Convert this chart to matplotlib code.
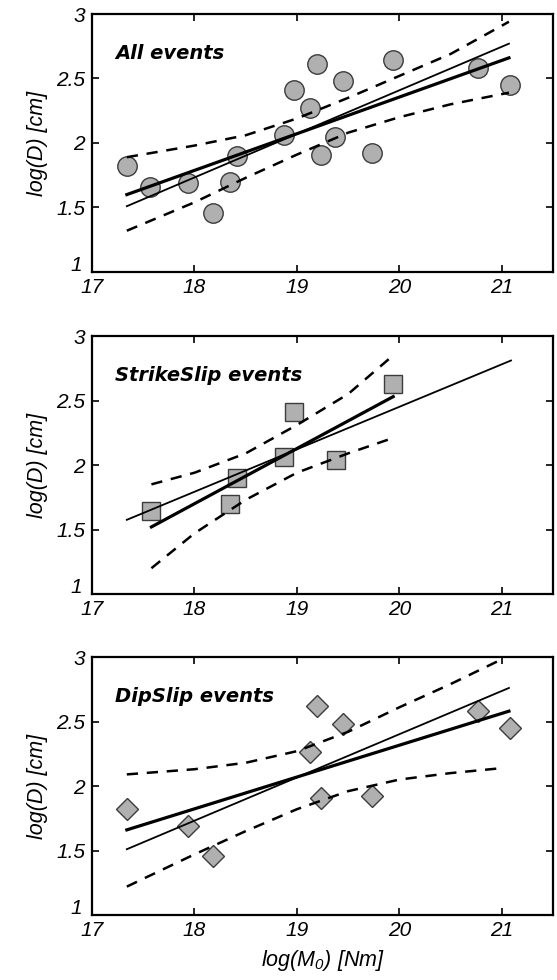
import matplotlib
matplotlib.use("Agg")
import matplotlib.pyplot as plt
import matplotlib.transforms as mtransforms

plt.rcParams['font.family'] = ['Liberation Sans', 'DejaVu Sans']
plt.rcParams['mathtext.fontset'] = 'custom'
plt.rcParams['mathtext.rm'] = 'Liberation Sans:italic'
plt.rcParams['mathtext.it'] = 'Liberation Sans:italic'

# --- All events ---
all_m0 = [17.34, 17.57, 17.94, 18.18, 18.35, 18.42, 18.87, 18.97, 19.13, 19.20,
          19.24, 19.37, 19.45, 19.73, 19.94, 20.77, 21.08]
all_d = [1.82, 1.66, 1.69, 1.46, 1.70, 1.90, 2.06, 2.41, 2.27, 2.61,
         1.91, 2.05, 2.48, 1.92, 2.64, 2.58, 2.45]
all_fit_x = [17.34, 21.07]
all_fit_thick = [1.60, 2.66]
all_fit_thin = [1.51, 2.77]
all_band_x = [17.34, 18.0, 18.5, 19.0, 19.5, 20.0, 20.5, 21.07]
all_band_up = [1.89, 1.98, 2.06, 2.19, 2.35, 2.52, 2.69, 2.94]
all_band_lo = [1.32, 1.54, 1.73, 1.91, 2.08, 2.20, 2.30, 2.39]

# --- StrikeSlip events ---
ss_m0 = [17.58, 18.35, 18.42, 18.87, 18.97, 19.38, 19.94]
ss_d = [1.64, 1.70, 1.90, 2.06, 2.41, 2.04, 2.63]
ss_thin_x = [17.34, 21.09]
ss_fit_thin = [1.575, 2.81]
ss_thick_x = [17.58, 19.94]
ss_fit_thick = [1.52, 2.53]
ss_band_x = [17.58, 18.0, 18.5, 19.0, 19.5, 19.94]
ss_band_up = [1.85, 1.94, 2.09, 2.31, 2.55, 2.85]
ss_band_lo = [1.20, 1.47, 1.73, 1.94, 2.09, 2.21]

# --- DipSlip events ---
ds_m0 = [17.34, 17.94, 18.18, 19.13, 19.20, 19.24, 19.45, 19.73, 20.77, 21.08]
ds_d = [1.82, 1.69, 1.46, 2.26, 2.62, 1.91, 2.48, 1.92, 2.58, 2.45]
ds_fit_x = [17.34, 21.07]
ds_fit_thick = [1.66, 2.58]
ds_fit_thin = [1.51, 2.76]
ds_band_x = [17.34, 18.0, 18.5, 19.0, 19.5, 20.0, 20.5, 21.02]
ds_band_up = [2.09, 2.13, 2.18, 2.27, 2.42, 2.61, 2.79, 2.99]
ds_band_lo = [1.22, 1.47, 1.65, 1.82, 1.96, 2.05, 2.10, 2.14]

x_ticks = [17, 18, 19, 20, 21]
y_ticks = [1, 1.5, 2, 2.5, 3]
y_tick_labels = ['1', '1.5', '2', '2.5', '3']

fig = plt.figure(figsize=(5.57, 9.80), dpi=100)
left, width, height = 92 / 557, 461 / 557, 258 / 980
bottoms = [1 - 272 / 980, 1 - 594 / 980, 1 - 915 / 980]

face = '#b0b0b0'
edge = '#3c3c3c'


def style_axes(ax, title):
    ax.set_xlim(17, 21.5)
    ax.set_ylim(1, 3)
    ax.set_xticks(x_ticks)
    ax.set_yticks(y_ticks)
    ax.set_xticklabels([str(t) for t in x_ticks], fontsize=15, style='italic')
    ax.set_yticklabels(y_tick_labels, fontsize=15, style='italic')
    ax.tick_params(direction='in', top=True, right=True, length=5, width=1.2)
    ax.tick_params(axis='x', pad=4)
    ax.tick_params(axis='y', pad=5)
    # lift the bottom "1" label a little, like the original
    lab = ax.get_yticklabels()[0]
    lab.set_transform(lab.get_transform() +
                      mtransforms.ScaledTranslation(-2 / 72, 6 / 72, fig.dpi_scale_trans))
    for s in ax.spines.values():
        s.set_linewidth(1.6)
    ax.set_ylabel('log(D) [cm]', fontsize=15.5, style='italic', labelpad=6)
    ax.text(0.05, 0.845, title, transform=ax.transAxes, fontsize=14,
            fontweight='bold', style='italic', va='center', ha='left',
            family='DejaVu Sans')


def draw_lines(ax, bx, up, lo):
    ax.plot(bx, up, color='black', lw=1.8, dashes=[4.5, 3.5], zorder=3)
    ax.plot(bx, lo, color='black', lw=1.8, dashes=[4.5, 3.5], zorder=3)


# panel 1
ax1 = fig.add_axes([left, bottoms[0], width, height])
ax1.plot(all_m0, all_d, 'o', ms=14, mfc=face, mec=edge, mew=1.0, zorder=2)
ax1.plot(all_fit_x, all_fit_thick, color='black', lw=2.3, zorder=4)
ax1.plot(all_fit_x, all_fit_thin, color='black', lw=1.3, zorder=4)
draw_lines(ax1, all_band_x, all_band_up, all_band_lo)
style_axes(ax1, 'All events')

# panel 2
ax2 = fig.add_axes([left, bottoms[1], width, height])
ax2.plot(ss_m0, ss_d, 's', ms=13, mfc=face, mec=edge, mew=1.0, zorder=2)
ax2.plot(ss_thick_x, ss_fit_thick, color='black', lw=2.3, zorder=4)
ax2.plot(ss_thin_x, ss_fit_thin, color='black', lw=1.3, zorder=4)
draw_lines(ax2, ss_band_x, ss_band_up, ss_band_lo)
style_axes(ax2, 'StrikeSlip events')

# panel 3
ax3 = fig.add_axes([left, bottoms[2], width, height])
ax3.plot(ds_m0, ds_d, 'D', ms=11, mfc=face, mec=edge, mew=1.0, zorder=2)
ax3.plot(ds_fit_x, ds_fit_thick, color='black', lw=2.3, zorder=4)
ax3.plot(ds_fit_x, ds_fit_thin, color='black', lw=1.3, zorder=4)
draw_lines(ax3, ds_band_x, ds_band_up, ds_band_lo)
style_axes(ax3, 'DipSlip events')
ax3.set_xlabel(r'log(M$_0$) [Nm]', fontsize=15.5, style='italic', labelpad=6)

fig.savefig('out.png', dpi=100)
